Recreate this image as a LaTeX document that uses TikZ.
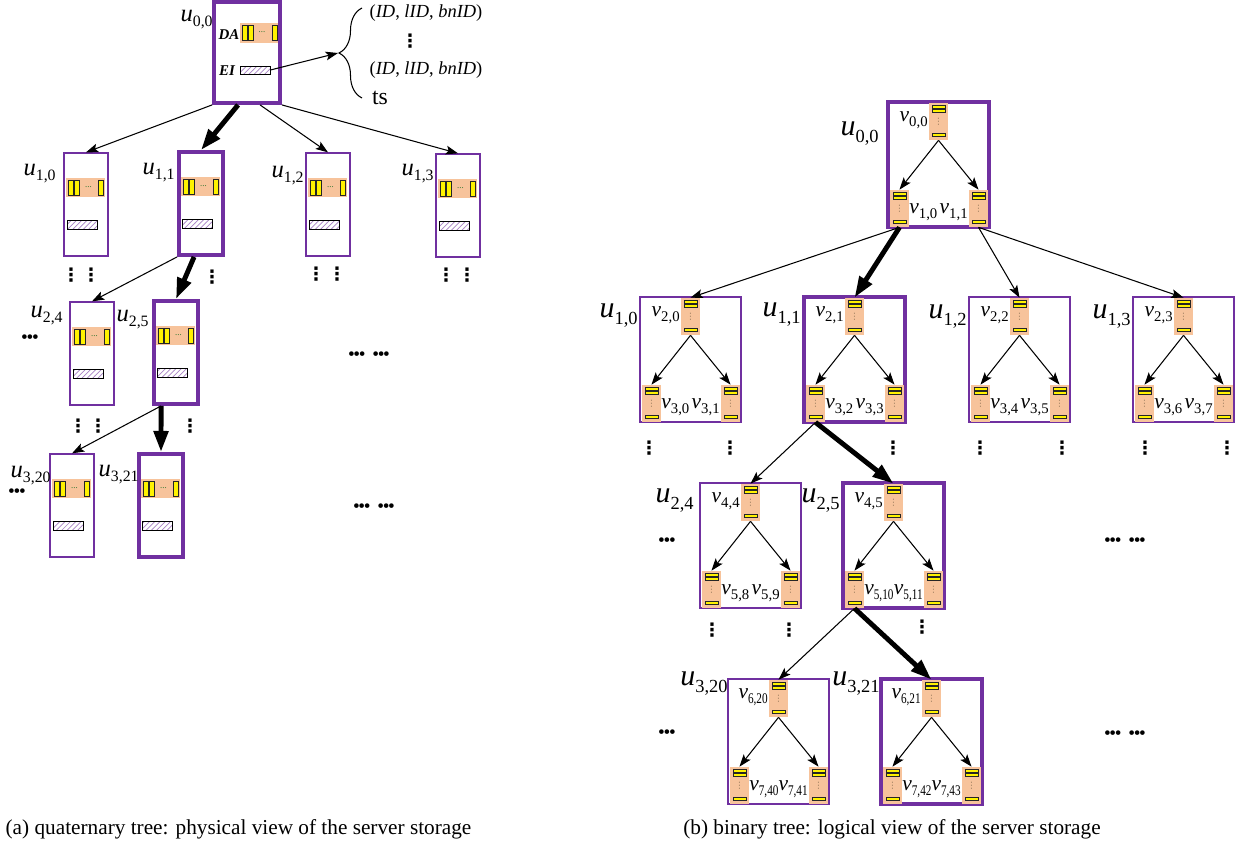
\documentclass[tikz,border=0pt]{standalone}
\usepackage{fontspec}
\usepackage{graphicx}
\setmainfont{Liberation Serif}
\newfontfamily\djv{DejaVu Sans}
\usetikzlibrary{arrows.meta,patterns,decorations.pathreplacing,calc}
\definecolor{purp}{RGB}{112,48,160}
\definecolor{peach}{RGB}{247,195,155}
\definecolor{dgreen}{RGB}{30,110,40}
\definecolor{vdotc}{RGB}{150,120,90}
\newdimen\px \px=0.02cm
\newcommand{\uL}[1]{{\fontsize{14}{14}\selectfont\itshape u}\raisebox{-3pt}{\fontsize{9}{9}\selectfont #1}}
\newcommand{\uR}[1]{{\fontsize{17}{17}\selectfont\itshape u}\raisebox{-4pt}{\fontsize{10.5}{10.5}\selectfont #1}}
\newcommand{\vR}[1]{{\fontsize{12.2}{12.2}\selectfont\itshape v}\raisebox{-3pt}{\fontsize{8.4}{8.4}\selectfont #1}}
\newcommand{\nr}[1]{\scalebox{0.76}[1]{#1}}
\newcommand{\bdots}{\textbullet\kern-0.07em\textbullet\kern-0.07em\textbullet}
\newcommand{\vd}{{\djv ⋮}}
\tikzset{
 thinbox/.style={draw=purp, line width=0.75pt, inner sep=0pt},
 thickbox/.style={draw=purp, line width=2.2pt, inner sep=0pt},
 yel/.style={fill=yellow, draw=black!85, line width=0.45pt},
 hatchbox/.style={pattern=north east lines, pattern color=purp!60, draw=black, line width=0.5pt, inner sep=0pt},
 arr/.style={line width=0.6pt, -{Stealth[length=7pt,width=5pt,inset=1.5pt]}},
 bigarr/.style={line width=2.8pt, -{Triangle[length=12pt,width=8pt]}},
 lbl/.style={inner sep=0pt},
 vdts/.style={inner sep=0pt, font=\bfseries\fontsize{10.5}{10.5}\selectfont},
 tinyv/.style={inner sep=0pt, text=vdotc, font=\fontsize{5}{5}\selectfont},
 hdots/.style={inner sep=0pt, text=dgreen, font=\fontsize{5}{5}\selectfont},
 bul/.style={inner sep=0pt, font=\fontsize{11}{11}\selectfont},
 txtbi/.style={inner sep=0pt, font=\bfseries\itshape\fontsize{8.5}{8.5}\selectfont},
 tup/.style={inner sep=0pt, font=\fontsize{10.5}{10.5}\selectfont},
 captext/.style={inner sep=0pt, font=\fontsize{12.1}{14}\selectfont},
}
% quaternary box: name, left x, top y, style
\newcommand{\qbox}[4]{%
 \node[#4, minimum width=44*\px, minimum height=103*\px] (#1) at (#2+22,#3+51.5) {};
 \begin{scope}[shift={(#2,#3)}]
  \fill[peach] (2,25) rectangle (41,44);
  \draw[yel] (4,27) rectangle (9,42);
  \draw[yel] (10,27) rectangle (15,42);
  \draw[yel] (34,27) rectangle (39,42);
  \node[hdots] at (24.5,34) {...};
  \draw[hatchbox] (3,67) rectangle (33,76);
 \end{scope}}
% vertical stack: name, left x, top y
\newcommand{\vstack}[3]{%
 \node[fill=peach, inner sep=0pt, minimum width=19*\px, minimum height=37*\px] (#1) at (#2+9.5,#3+18.5) {};
 \begin{scope}[shift={(#2,#3)}]
  \draw[yel] (3,2) rectangle (16,5.5);
  \draw[yel] (3,6) rectangle (16,9.5);
  \node[tinyv] at (9.5,19) {\vd};
  \draw[yel] (3,30) rectangle (16,33.5);
 \end{scope}}
% binary box: name, x, y, style, top, bottom-left, bottom-right labels
\newcommand{\bbox}[7]{%
 \node[#4, minimum width=101*\px, minimum height=125*\px] (#1) at (#2+50.5,#3+62.5) {};
 \vstack{#1t}{#2+41}{#3+1}
 \vstack{#1l}{#2+2}{#3+88}
 \vstack{#1r}{#2+81}{#3+88}
 \draw[arr] (#1t.south) -- (#1l.north);
 \draw[arr] (#1t.south) -- (#1r.north);
 \node[lbl, anchor=base east] at (#2+40,#3+19) {\vR{#5}};
 \node[lbl, anchor=base west] at (#2+21,#3+111) {\vR{#6}};
 \node[lbl, anchor=base east] at (#2+80,#3+111) {\vR{#7}};
}
\begin{document}
\begin{tikzpicture}[x=0.02cm,y=-0.02cm]
\fill[white] (0,0) rectangle (1243,845);
\useasboundingbox (0,0) rectangle (1243,845);

% ---------------- left: quaternary tree ----------------
\node[thickbox, minimum width=66*\px, minimum height=101*\px] (L00) at (247,52.5) {};
\fill[peach] (240,23) rectangle (278,43);
\draw[yel] (242,25) rectangle (247,40);
\draw[yel] (248,25) rectangle (253,40);
\draw[yel] (272,25) rectangle (277,40);
\node[hdots] at (262,32) {...};
\node[hatchbox, minimum width=30*\px, minimum height=8*\px] (EI) at (255,70) {};
\node[txtbi] (da) at (229,35) {DA};
\node[txtbi] (ei) at (227,71) {EI};
\node[lbl, anchor=base east] (lu00) at (213,21) {\uL{0,0}};

\coordinate (btip) at (338,53);
\draw[line width=0.6pt, decorate, decoration={brace, amplitude=0.46cm}] (362,98) -- (362,8);
\draw[arr] (EI.east) -- (btip);
\node[tup] (t1) at (426,13) {(\textit{ID}, \textit{lID}, \textit{bnID})};
\node[vdts] (t2) at (410,41) {\vd};
\node[tup] (t3) at (426,70) {(\textit{ID}, \textit{lID}, \textit{bnID})};
\node[inner sep=0pt, font=\fontsize{13.5}{13.5}\selectfont] (ts) at (380,98) {ts};

\qbox{L10}{64}{153}{thinbox}
\qbox{L11}{179}{152}{thickbox}
\qbox{L12}{306}{153}{thinbox}
\qbox{L13}{436}{154}{thinbox}
\qbox{L24}{70}{302}{thinbox}
\qbox{L25}{154}{301}{thickbox}
\qbox{L320}{50}{454}{thinbox}
\qbox{L321}{139}{454}{thickbox}

\node[lbl, anchor=base east] at (56,175) {\uL{1,0}};
\node[lbl, anchor=base east] at (175,174) {\uL{1,1}};
\node[lbl, anchor=base east] at (304,177) {\uL{1,2}};
\node[lbl, anchor=base east] at (434,175) {\uL{1,3}};
\node[lbl, anchor=base east] at (63,317) {\uL{2,4}};
\node[lbl, anchor=base east] at (149,321) {\uL{2,5}};
\node[lbl, anchor=base east] at (51,477) {\uL{3,20}};
\node[lbl, anchor=base east] at (139,476) {\uL{3,21}};

\draw[arr] (L00.south west) -- (L10.north);
\draw[bigarr] ($(L00.south west)+(26,0)$) -- (L11.north);
\draw[arr] ($(L00.south west)+(48,0)$) -- (L12.north);
\draw[arr] (L00.south east) -- (L13.north);
\draw[arr] (L11.south west) -- (L24.north);
\draw[bigarr] ($(L11.south west)+(17,0)$) -- (L25.north);
\draw[arr] ($(L25.south west)+(9,0)$) -- (L320.north);
\draw[bigarr] ($(L25.south west)+(9,0)$) -- (L321.north);

\foreach \x/\y in {71/275,91/275,212/277,316/274,337/274,446/275,467/275,78/426,98/426,190/426}
  \node[vdts] at (\x,\y) {\vd};
\node[bul] at (30,339) {\bdots};
\node[bul] at (17,493) {\bdots};
\node[bul] at (369,356) {\bdots\hspace{0.35em}\bdots};
\node[bul] at (374,508) {\bdots\hspace{0.35em}\bdots};

% ---------------- right: binary tree ----------------
\bbox{R00}{888}{102}{thickbox}{0,0}{1,0}{1,1}
\bbox{R10}{640}{297}{thinbox}{2,0}{3,0}{3,1}
\bbox{R11}{804}{297}{thickbox}{2,1}{3,2}{3,3}
\bbox{R12}{969}{297}{thinbox}{2,2}{3,4}{3,5}
\bbox{R13}{1133}{297}{thinbox}{2,3}{3,6}{3,7}
\bbox{R24}{700}{483}{thinbox}{4,4}{5,8}{5,9}
\bbox{R25}{843}{483}{thickbox}{4,5}{\nr{5,10}}{\nr{5,11}}
\bbox{R320}{728}{679}{thinbox}{\nr{6,20}}{\nr{7,40}}{\nr{7,41}}
\bbox{R321}{881}{679}{thickbox}{\nr{6,21}}{\nr{7,42}}{\nr{7,43}}

\node[lbl, anchor=base east] at (879,135) {\uR{0,0}};
\node[lbl, anchor=base east] at (638,317) {\uR{1,0}};
\node[lbl, anchor=base east] at (801,316) {\uR{1,1}};
\node[lbl, anchor=base east] at (967,318) {\uR{1,2}};
\node[lbl, anchor=base east] at (1131,318) {\uR{1,3}};
\node[lbl, anchor=base east] at (694,502) {\uR{2,4}};
\node[lbl, anchor=base east] at (840,502) {\uR{2,5}};
\node[lbl, anchor=base east] at (728,685) {\uR{3,20}};
\node[lbl, anchor=base east] at (880,685) {\uR{3,21}};

\draw[arr] (R00l.south) -- (R10t.north);
\draw[bigarr] (R00l.south) -- (R11t.north);
\draw[arr] (R00r.south) -- (R12t.north);
\draw[arr] (R00r.south) -- (R13t.north);
\draw[arr] (R11l.south) -- (R24t.north);
\draw[bigarr] (R11l.south) -- (R25t.north);
\draw[arr] (R25l.south) -- (R320t.north);
\draw[bigarr] (R25l.south) -- (R321t.north);

\foreach \x/\y in {649/448,730/448,893/448,980/448,1062/448,1145/448,1227/448,712/630,789/630,922/627}
  \node[vdts] at (\x,\y) {\vd};
\node[bul] at (667,542) {\bdots};
\node[bul] at (667,734) {\bdots};
\node[bul] at (1125,542) {\bdots\hspace{0.35em}\bdots};
\node[bul] at (1125,735) {\bdots\hspace{0.35em}\bdots};

% captions
\node[captext] (capa) at (238.5,829) {(a) quaternary tree: physical view of the server storage};
\node[captext] (capb) at (892,829) {(b) binary tree: logical view of the server storage};
\end{tikzpicture}
\end{document}
